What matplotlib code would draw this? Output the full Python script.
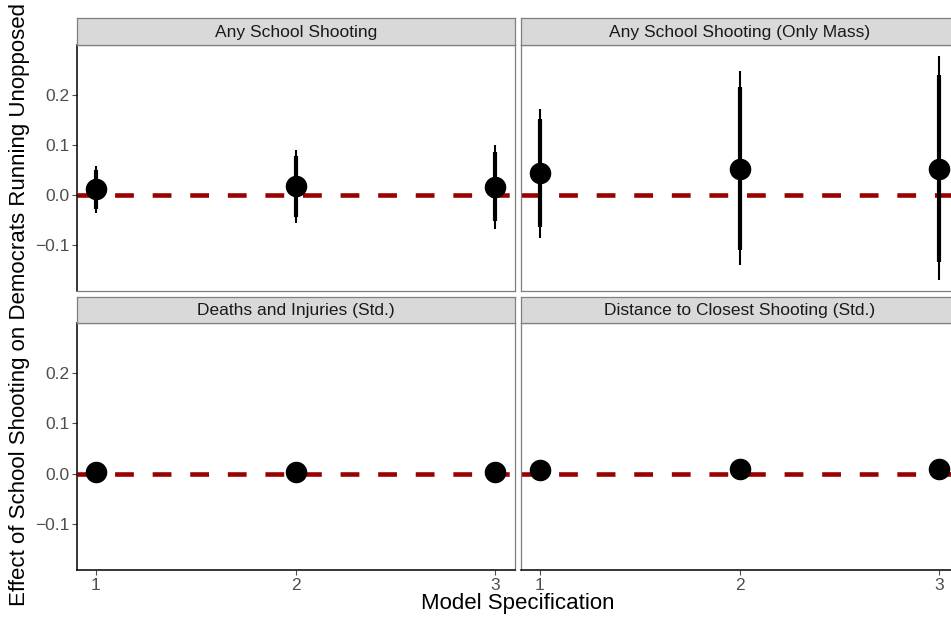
import matplotlib
matplotlib.use("Agg")
import matplotlib.pyplot as plt
from matplotlib.ticker import FixedLocator

plt.rcParams['font.family'] = ['Liberation Sans', 'DejaVu Sans']

models = [1, 2, 3]
panel_titles = ["Any School Shooting", "Any School Shooting (Only Mass)",
                "Deaths and Injuries (Std.)", "Distance to Closest Shooting (Std.)"]

# estimates
est_any = [0.012, 0.018, 0.017]
est_mass = [0.045, 0.053, 0.053]
est_deaths = [0.003, 0.003, 0.003]
est_dist = [0.008, 0.009, 0.009]

# 90% intervals (thick)
lo90_any = [-0.027, -0.043, -0.051]
hi90_any = [0.050, 0.078, 0.087]
lo90_mass = [-0.063, -0.109, -0.133]
hi90_mass = [0.152, 0.215, 0.240]
lo90_deaths = [-0.002, -0.002, -0.002]
hi90_deaths = [0.008, 0.008, 0.008]
lo90_dist = [0.003, 0.004, 0.004]
hi90_dist = [0.013, 0.014, 0.014]

# 95% intervals (thin)
lo95_any = [-0.035, -0.055, -0.067]
hi95_any = [0.058, 0.090, 0.100]
lo95_mass = [-0.085, -0.139, -0.170]
hi95_mass = [0.173, 0.247, 0.278]
lo95_deaths = [-0.004, -0.004, -0.004]
hi95_deaths = [0.010, 0.010, 0.010]
lo95_dist = [0.001, 0.002, 0.002]
hi95_dist = [0.015, 0.016, 0.016]

yticks = [-0.1, 0.0, 0.1, 0.2]
ytick_labels = ["\u22120.1", "0.0", "0.1", "0.2"]
xticks = [1, 2, 3]
xtick_labels = ["1", "2", "3"]

data = [
    (est_any, lo90_any, hi90_any, lo95_any, hi95_any),
    (est_mass, lo90_mass, hi90_mass, lo95_mass, hi95_mass),
    (est_deaths, lo90_deaths, hi90_deaths, lo95_deaths, hi95_deaths),
    (est_dist, lo90_dist, hi90_dist, lo95_dist, hi95_dist),
]

W, H = 951, 617
fig = plt.figure(figsize=(W / 100, H / 100), dpi=100)

pw = 438
lefts = [77, 521]
rows = [(45, 291, 18), (323, 570, 297)]  # (top, bottom, strip_top)

for i in range(4):
    r, c = divmod(i, 2)
    top, bot, stop = rows[r]
    l = lefts[c]
    ax = fig.add_axes([l / W, 1 - bot / H, pw / W, (bot - top) / H])
    est, lo90, hi90, lo95, hi95 = data[i]
    ax.axhline(0, color="#990000", lw=3.3, dashes=(4.1, 4.1), zorder=1)
    ax.vlines(models, lo95, hi95, color="black", lw=1.5, zorder=2)
    ax.vlines(models, lo90, hi90, color="black", lw=3.0, zorder=2)
    ax.plot(models, est, "o", color="black", ms=14.5, zorder=3)
    ax.set_xlim(0.905, 3.1)
    ax.set_ylim(-0.192, 0.3)
    for s in ax.spines.values():
        s.set_color("#7f7f7f")
        s.set_linewidth(0.9)
    ax.yaxis.set_major_locator(FixedLocator(yticks))
    ax.xaxis.set_major_locator(FixedLocator(xticks))
    ax.tick_params(colors="#4d4d4d", length=3.5, width=0.8, labelsize=12.5)
    if c == 0:
        ax.set_yticklabels(ytick_labels)
        ax.spines["left"].set_color("black")
        ax.spines["left"].set_linewidth(1.1)
        ax.tick_params(axis="y", pad=2)
    else:
        ax.tick_params(axis="y", left=False, labelleft=False)
    if r == 1:
        ax.set_xticklabels(xtick_labels)
        ax.spines["bottom"].set_color("black")
        ax.spines["bottom"].set_linewidth(1.1)
        ax.tick_params(axis="x", pad=2)
    else:
        ax.tick_params(axis="x", bottom=False, labelbottom=False)

    sax = fig.add_axes([l / W, 1 - top / H, pw / W, (top - stop) / H])
    sax.set_facecolor("#d9d9d9")
    sax.set_xticks([])
    sax.set_yticks([])
    for s in sax.spines.values():
        s.set_color("#7f7f7f")
        s.set_linewidth(0.9)
    sax.text(0.5, 0.48, panel_titles[i], ha="center", va="center",
             fontsize=12.5, color="#1a1a1a", transform=sax.transAxes)

fig.text(518 / W, 1 - 603 / H, "Model Specification", ha="center", va="center",
         fontsize=16, color="black")
fig.text(20 / W, 1 - 305 / H, "Effect of School Shooting on Democrats Running Unopposed",
         ha="center", va="center", rotation=90, fontsize=16, color="black")

fig.savefig("out.png", dpi=100)
